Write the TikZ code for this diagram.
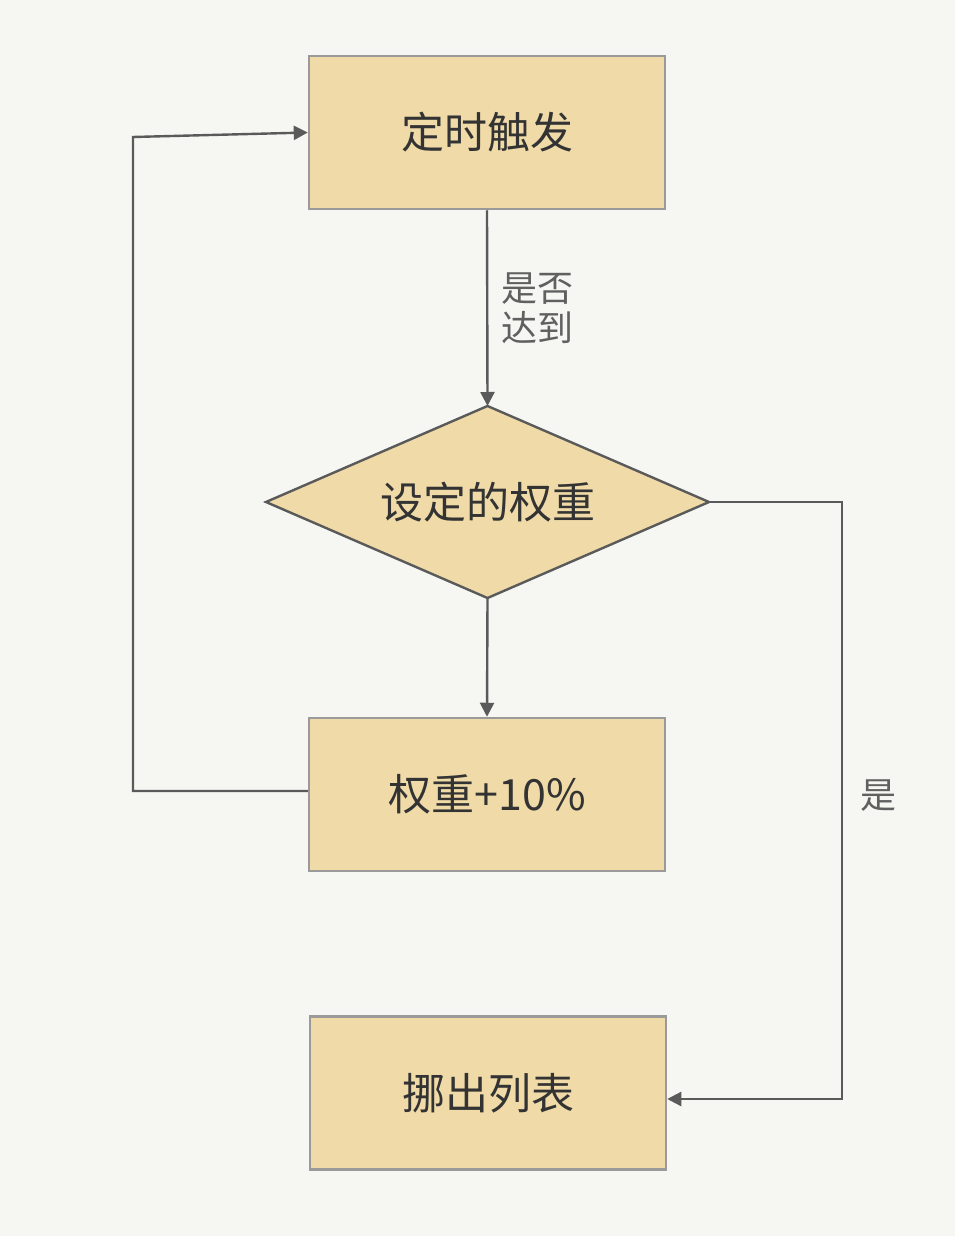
\documentclass[tikz,border=0pt]{standalone}
\usepackage{fontspec}
\setmainfont{Noto Sans CJK SC}
\usetikzlibrary{arrows.meta,shapes.geometric}
\definecolor{bg}{HTML}{F6F6F2}
\definecolor{boxfill}{HTML}{F0DBA8}
\definecolor{boxline}{HTML}{9A9A9A}
\definecolor{darkline}{HTML}{5A5A5A}
\definecolor{txt}{HTML}{333333}
\definecolor{lbl}{HTML}{606060}
\begin{document}
\begin{tikzpicture}[x=1pt,y=-1pt,
  stepbox/.style={draw=boxline,line width=2.5pt,fill=boxfill,minimum width=356pt,minimum height=153pt,
    inner sep=0pt,text=txt,font=\fontsize{43pt}{50pt}\selectfont},
  decide/.style={draw=darkline,line width=2.4pt,fill=boxfill,text=txt,font=\fontsize{43pt}{50pt}\selectfont},
  flow/.style={draw=darkline,line width=2.4pt,-{Triangle[length=14pt,width=14pt]}},
  note/.style={text=lbl,font=\fontsize{36pt}{40pt}\selectfont,align=left}]
  % page background
  \fill[bg] (0,0) rectangle (955,1236);
  \useasboundingbox (0,0) rectangle (955,1236);

  % process boxes
  \node[stepbox] (trig) at (487,132.5) {定时触发};
  \node[stepbox] (inc) at (487,794.5) {权重+10\%};
  \node[stepbox] (out) at (488,1093) {挪出列表};

  % decision diamond
  \coordinate (dc) at (487.5,502);
  \path[decide] (266,502) -- (487.5,406) -- (709,502) -- (487.5,598) -- cycle;
  \node[inner sep=0pt,text=txt,font=\fontsize{43pt}{50pt}\selectfont] (dec) at (dc) {设定的权重};
  \coordinate (dtop) at (487.5,406);
  \coordinate (dbot) at (487.5,598);
  \coordinate (dright) at (709,502);

  % loop corners
  \coordinate (l1) at (133,791);
  \coordinate (l2) at (133,137);
  \coordinate (r1) at (842,502);
  \coordinate (r2) at (842,1099);

  % connectors
  \draw[flow] (trig.south) -- (dtop);
  \draw[flow] (dbot) -- (inc.north);
  \draw[flow] (inc.west |- l1) -- (l1) -- (l2) -- (trig.west);
  \draw[flow] (dright) -- (r1) -- (r2) -- (out.east |- r2);

  % labels
  \node[note,anchor=west] (q) at (498,308) {是否\\[0pt]达到};
  \node[note] (yes) at (878,796) {是};
\end{tikzpicture}
\end{document}
